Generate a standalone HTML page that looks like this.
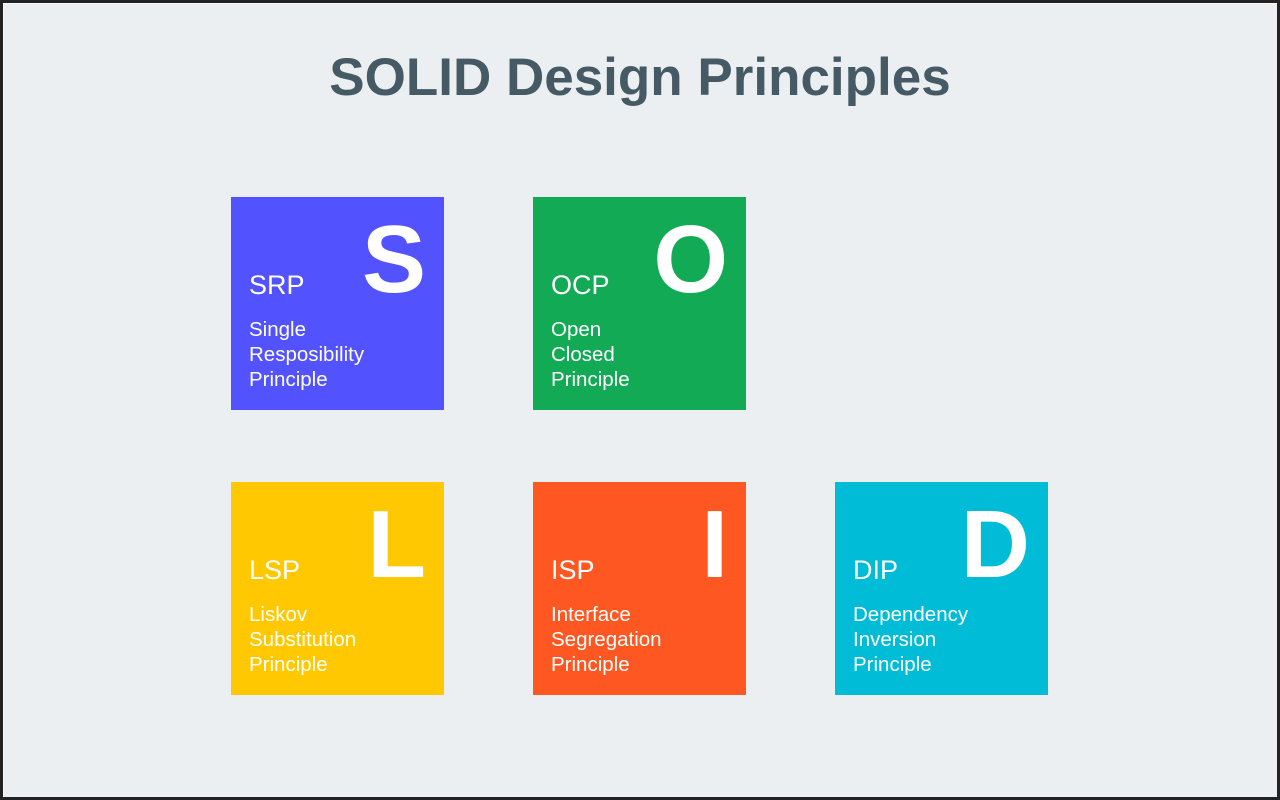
<!DOCTYPE html>
<html><head><style>
body{margin:0;width:1280px;height:800px;overflow:hidden;background:#222;}
.f{position:absolute;left:3px;top:3px;width:1274px;height:794px;background:#eceff1;border-top:1px solid #fafafa;border-left:1px solid #fafafa;box-sizing:border-box;}
h1{position:absolute;left:0;top:47px;width:1280px;margin:0;text-align:center;font:bold 53px "Liberation Sans",sans-serif;color:#455a64;}
.b{position:absolute;width:213px;height:213px;font-family:"Liberation Sans",sans-serif;color:#fff;}
.L{position:absolute;right:18px;top:15px;font-weight:bold;font-size:96px;line-height:96px;}
.a{position:absolute;left:18px;top:73px;font-size:27px;}
.t{position:absolute;left:18px;top:120px;font-size:20.5px;line-height:25px;}
</style></head><body>
<div class="f"></div>
<h1>SOLID Design Principles</h1>
<div class="b" style="left:231px;top:197px;background:#5352ff"><div class="L">S</div><div class="a">SRP</div><div class="t">Single<br>Resposibility<br>Principle</div></div>
<div class="b" style="left:533px;top:197px;background:#13aa56"><div class="L">O</div><div class="a">OCP</div><div class="t">Open<br>Closed<br>Principle</div></div>
<div class="b" style="left:231px;top:482px;background:#ffc800"><div class="L">L</div><div class="a">LSP</div><div class="t">Liskov<br>Substitution<br>Principle</div></div>
<div class="b" style="left:533px;top:482px;background:#ff5722"><div class="L">I</div><div class="a">ISP</div><div class="t">Interface<br>Segregation<br>Principle</div></div>
<div class="b" style="left:835px;top:482px;background:#00bcd6"><div class="L">D</div><div class="a">DIP</div><div class="t">Dependency<br>Inversion<br>Principle</div></div>
</body></html>
